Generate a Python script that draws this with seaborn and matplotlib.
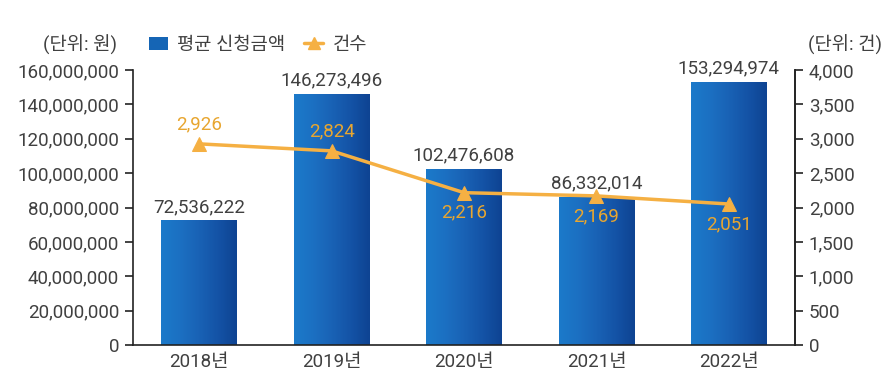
import matplotlib
matplotlib.use("Agg")
import matplotlib.pyplot as plt
import seaborn as sns
import numpy as np
import pandas as pd
from matplotlib.colors import LinearSegmentedColormap
from matplotlib.lines import Line2D
from matplotlib.patches import Patch

years = ["2018년", "2019년", "2020년", "2021년", "2022년"]
amounts = [72536222, 146273496, 102476608, 86332014, 153294974]
counts = [2926, 2824, 2216, 2169, 2051]
count_label_above = [True, True, False, False, False]

sns.set_theme(style="white")
plt.rcParams['font.family'] = ['Roboto', 'Noto Sans CJK KR', 'DejaVu Sans']

FS = 13.5
TXT = "#404040"
ORANGE = "#f5b043"
ORANGE_TXT = "#e8a630"

fig = plt.figure(figsize=(8.89, 3.84), dpi=100)
ax = fig.add_axes([0.1496, 0.1016, 0.7447, 0.716])

df = pd.DataFrame({"year": years, "amount": amounts})
sns.barplot(data=df, x="year", y="amount", ax=ax, color="#1a5fb0", width=0.57,
            saturation=1, edgecolor="none")

# gradient fill for bars
cmap = LinearSegmentedColormap.from_list("g", ["#1b7aca", "#1c70c2", "#1962b5", "#1453a6", "#0e4392"])
grad = np.linspace(0, 1, 256).reshape(1, -1)
for p in ax.patches:
    x0, y0 = p.get_x(), p.get_y()
    w, h = p.get_width(), p.get_height()
    im = ax.imshow(grad, extent=[x0, x0 + w, y0, y0 + h], aspect="auto",
                   cmap=cmap, zorder=p.get_zorder() + 0.1)
    im.set_clip_path(p)

ax.set_xlim(-0.5, 4.5)
ax.set_ylim(0, 160000000)
ax.set_yticks(np.arange(0, 160000001, 20000000))
ax.set_yticklabels([f"{v:,}" for v in range(0, 160000001, 20000000)], fontsize=FS, color=TXT)
ax.set_xticks(range(5))
ax.set_xticklabels(years, fontsize=FS, color=TXT)
ax.tick_params(axis="x", length=0, pad=6)
ax.set_xticks(np.arange(-0.5, 5, 1), minor=True)
ax.tick_params(axis="x", which="minor", length=6, width=1.2, color="#222222", direction="out")
ax.tick_params(axis="y", length=6, width=1.2, color="#222222", direction="out", left=True, pad=4)
ax.set_xlabel("")
ax.set_ylabel("")
for s in ["left", "bottom", "right"]:
    ax.spines[s].set_visible(True)
    ax.spines[s].set_color("#222222")
    ax.spines[s].set_linewidth(1.2)
ax.spines["top"].set_visible(False)

for i, v in enumerate(amounts):
    ax.text(i, v + 2500000, f"{v:,}", ha="center", va="bottom", fontsize=FS, color=TXT)

ax2 = ax.twinx()
ax2.set_ylim(0, 4000)
ax2.set_yticks(np.arange(0, 4001, 500))
ax2.set_yticklabels([f"{v:,}" for v in range(0, 4001, 500)], fontsize=FS, color=TXT)
ax2.tick_params(axis="y", length=6, width=1.2, color="#222222", direction="out", right=True, pad=4)
for s in ["left", "bottom", "right", "top"]:
    ax2.spines[s].set_visible(False)
ax2.spines["right"].set_visible(True)
ax2.spines["right"].set_color("#222222")
ax2.spines["right"].set_linewidth(1.2)

sns.lineplot(x=list(range(5)), y=counts, ax=ax2, color=ORANGE, linewidth=2.5,
             marker="^", markersize=10, markeredgecolor=ORANGE, legend=False)
for i, v in enumerate(counts):
    if count_label_above[i]:
        ax2.text(i, v + 160, f"{v:,}", ha="center", va="bottom", fontsize=FS, color=ORANGE_TXT)
    else:
        ax2.text(i, v - 160, f"{v:,}", ha="center", va="top", fontsize=FS, color=ORANGE_TXT)

fig.text(80 / 889, 1 - 45 / 384, "(단위: 원)", ha="center", va="center", fontsize=FS, color=TXT)
fig.text(845 / 889, 1 - 45 / 384, "(단위: 건)", ha="center", va="center", fontsize=FS, color=TXT)

handles = [Patch(facecolor="#1565b5", edgecolor="none"),
           Line2D([0], [0], color=ORANGE, linewidth=2.5, marker="^", markersize=9)]
leg = fig.legend(handles, ["평균 신청금액", "건수"], loc="center", bbox_to_anchor=(258 / 889, 1 - 45 / 384),
                 ncol=2, frameon=False, fontsize=FS, handlelength=1.0, handletextpad=0.5,
                 columnspacing=1.0, labelcolor=TXT)

fig.savefig("out.png", dpi=100)
